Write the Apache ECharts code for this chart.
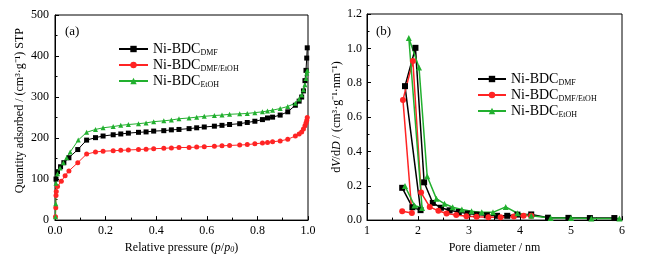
<!DOCTYPE html>
<html>
<head>
<meta charset="utf-8">
<script src="https://cdn.jsdelivr.net/npm/echarts@6/dist/echarts.min.js"></script>
<style>
  html, body { margin: 0; padding: 0; background: #fff; }
  #chart { width: 646px; height: 259px; }
</style>
</head>
<body>
<div id="chart"></div>
<script>
// (a) N2 isotherms: relative pressure vs quantity adsorbed
var isoDMF_p = [0.004,0.01,0.022,0.035,0.055,0.09,0.125,0.16,0.19,0.23,0.26,0.29,0.33,0.36,0.39,0.43,0.46,0.49,0.53,0.56,0.59,0.63,0.66,0.69,0.73,0.76,0.79,0.82,0.84,0.86,0.89,0.92,0.95,0.965,0.975,0.982,0.988,0.992,0.995,0.997];
var isoDMF_q = [100,118,130,140,152,172,195,201,205,208,210,212,214,215,217,218,220,221,223,225,227,229,231,233,235,238,241,245,249,251,256,264,280,290,300,315,340,365,395,420];
var isoMix_p = [0.002,0.003,0.004,0.005,0.01,0.025,0.04,0.055,0.09,0.125,0.16,0.19,0.23,0.26,0.29,0.33,0.36,0.39,0.43,0.46,0.49,0.53,0.56,0.59,0.63,0.66,0.69,0.73,0.76,0.79,0.82,0.84,0.86,0.89,0.92,0.95,0.965,0.975,0.982,0.988,0.992,0.995,0.997];
var isoMix_q = [8,30,60,70,82,95,108,120,140,161,166,168,169,170,171,172,173,174,175,176,177,177,178,179,180,181,182,183,184,186,188,189,191,193,197,205,210,215,222,230,237,243,250];
var isoEtOH_p = [0.002,0.003,0.004,0.01,0.02,0.033,0.046,0.06,0.092,0.125,0.16,0.19,0.23,0.26,0.29,0.33,0.36,0.39,0.43,0.46,0.49,0.53,0.56,0.59,0.63,0.66,0.69,0.73,0.76,0.79,0.82,0.84,0.86,0.89,0.92,0.95,0.965,0.975,0.982,0.988,0.992,0.995,0.997];
var isoEtOH_q = [8,40,90,113,127,140,152,166,195,214,221,225,228,231,233,235,237,240,242,244,247,249,251,253,255,256,258,259,260,262,264,266,268,272,277,285,295,305,318,330,345,358,365];

// (b) pore size distribution: pore diameter (nm) vs dV/dD (points kept in plotted order)
var psdDMF_d = [1.69,1.89,2.05,1.745,1.95,2.12,2.29,2.45,2.62,2.80,2.97,3.15,3.35,3.55,3.75,3.95,4.22,4.55,4.95,5.37,5.85];
var psdDMF_v = [0.188,0.075,0.058,0.78,1.003,0.22,0.10,0.072,0.057,0.047,0.038,0.032,0.028,0.025,0.025,0.032,0.033,0.014,0.013,0.012,0.012];
var psdMix_d = [1.69,1.88,1.705,1.90,2.06,2.23,2.40,2.56,2.75,2.95,3.15,3.38,3.62,3.88,4.07,4.22];
var psdMix_v = [0.052,0.042,0.70,0.926,0.16,0.077,0.054,0.038,0.03,0.023,0.019,0.016,0.016,0.021,0.026,0.026];
var psdEtOH_d = [1.745,1.93,2.08,1.82,2.02,2.18,2.36,2.52,2.68,2.86,3.05,3.25,3.47,3.72,3.95,4.22,4.6,5.0,5.4,5.95];
var psdEtOH_v = [0.198,0.085,0.07,1.06,0.888,0.255,0.125,0.095,0.075,0.062,0.052,0.045,0.045,0.077,0.04,0.025,0.012,0.012,0.01,0.01];

var seriesNames = ['DMF', 'DMF/EtOH', 'EtOH'];
var seriesColors = ['#000000', '#ff2424', '#22b02f'];
var seriesSymbols = ['rect', 'circle', 'triangle'];

var FONT = 'Liberation Serif, Times New Roman, serif';

function zip(xs, ys) {
  return xs.map(function (x, i) { return [x, ys[i]]; });
}

var legendRich = {
  m: { fontFamily: FONT, fontSize: 14, color: '#000', lineHeight: 16 },
  s: { fontFamily: FONT, fontSize: 8, color: '#000', lineHeight: 9, verticalAlign: 'bottom' }
};
function legendFmt(name) {
  return '{m|Ni-BDC}{s|' + name + '}';
}

function axisCommon() {
  return {
    axisLine: { lineStyle: { color: '#000', width: 1 } },
    axisTick: { inside: true, length: 4, lineStyle: { color: '#000' } },
    minorTick: { show: true, splitNumber: 2, length: 2.5, lineStyle: { color: '#000' } },
    splitLine: { show: false },
    axisLabel: { fontFamily: FONT, fontSize: 12, color: '#000' },
    nameTextStyle: { fontFamily: FONT, fontSize: 12, color: '#000' }
  };
}

var xA = Object.assign(axisCommon(), {
  gridIndex: 0, type: 'value', min: 0, max: 1, interval: 0.2,
  name: 'Relative pressure ({i|p}/{i|p}{s|0})', nameLocation: 'middle', nameGap: 17
});
xA.axisLabel.formatter = function (v) { return v.toFixed(1); };
xA.axisLabel.margin = 5;
xA.nameTextStyle.rich = {
  i: { fontFamily: FONT, fontSize: 12, fontStyle: 'italic', color: '#000' },
  s: { fontFamily: FONT, fontSize: 8, fontStyle: 'italic', color: '#000', verticalAlign: 'bottom', lineHeight: 8 }
};

var yA = Object.assign(axisCommon(), {
  gridIndex: 0, type: 'value', min: 0, max: 500, interval: 100,
  name: 'Quantity adsorbed / (cm³·g⁻¹) STP', nameLocation: 'middle', nameGap: 29
});
yA.axisLabel.margin = 6;
yA.nameTextStyle.padding = [0, 0, 0, 14];

var xB = Object.assign(axisCommon(), {
  gridIndex: 1, type: 'value', min: 1, max: 6, interval: 1,
  name: 'Pore diameter / nm', nameLocation: 'middle', nameGap: 17
});
xB.axisLabel.margin = 5;

var yB = Object.assign(axisCommon(), {
  gridIndex: 1, type: 'value', min: 0, max: 1.2, interval: 0.2,
  name: 'd{i|V}/d{i|D} / (cm³·g⁻¹·nm⁻¹)', nameLocation: 'middle', nameGap: 24
});
yB.axisLabel.formatter = function (v) { return v.toFixed(1); };
yB.axisLabel.margin = 5;
yB.nameTextStyle.rich = {
  i: { fontFamily: FONT, fontSize: 12, fontStyle: 'italic', color: '#000' }
};

var isoData = [zip(isoDMF_p, isoDMF_q), zip(isoMix_p, isoMix_q), zip(isoEtOH_p, isoEtOH_q)];
var psdData = [zip(psdDMF_d, psdDMF_v), zip(psdMix_d, psdMix_v), zip(psdEtOH_d, psdEtOH_v)];

var series = [];
seriesNames.forEach(function (name, i) {
  series.push({
    name: name, type: 'line', xAxisIndex: 0, yAxisIndex: 0,
    data: isoData[i], symbol: seriesSymbols[i], symbolSize: 5,
    color: seriesColors[i], lineStyle: { width: 1 }, animation: false
  });
});
seriesNames.forEach(function (name, i) {
  series.push({
    name: name, type: 'line', xAxisIndex: 1, yAxisIndex: 1,
    data: psdData[i], symbol: seriesSymbols[i], symbolSize: 6,
    color: seriesColors[i], lineStyle: { width: 1.5 }, animation: false
  });
});

var chart = echarts.init(document.getElementById('chart'));
chart.setOption({
  backgroundColor: '#fff',
  animation: false,
  grid: [
    { left: 55, right: 338, top: 15, bottom: 37, show: true, borderColor: '#000', borderWidth: 1 },
    { left: 367, right: 24, top: 14, bottom: 36, show: true, borderColor: '#000', borderWidth: 1 }
  ],
  xAxis: [xA, xB],
  yAxis: [yA, yB],
  legend: [
    {
      data: seriesNames, orient: 'vertical', left: 113, top: 37,
      itemWidth: 29, itemHeight: 8, itemGap: 1,
      formatter: legendFmt, textStyle: { rich: legendRich }
    },
    {
      data: seriesNames, orient: 'vertical', left: 472, top: 67,
      itemWidth: 28, itemHeight: 8, itemGap: 1,
      formatter: legendFmt, textStyle: { rich: legendRich }
    }
  ],
  graphic: [
    { type: 'text', left: 65, top: 25, style: { text: '(a)', font: '13px ' + FONT, fill: '#000' } },
    { type: 'text', left: 376, top: 25, style: { text: '(b)', font: '13px ' + FONT, fill: '#000' } }
  ],
  series: series
});
</script>
</body>
</html>
